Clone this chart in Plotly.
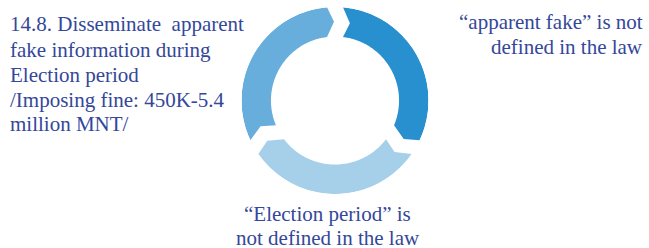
import math
import plotly.graph_objects as go

# ---- data ----
segment_names = ["apparent fake", "Election period", "14.8 fine"]
segment_values = [1, 1, 1]
segment_colors = ["#2890CF", "#A6CFEA", "#67AEDD"]
label_right = ["“apparent fake” is not", "defined in the law"]
label_bottom = ["“Election period” is", "not defined in the law"]
label_left = [
    "14.8. Disseminate\u00a0 apparent",
    "fake information during",
    "Election period",
    "/Imposing fine: 450K-5.4",
    "million MNT/",
]

# ---- geometry (styles) ----
W, H = 649, 248
CX, CY = 335.0, 100.5
R_PX = 93.5          # outer radius in pixels
R_IN = 0.685         # inner radius (fraction of outer)
R_MID = (1 + R_IN) / 2
GAP_PX = 8.0         # half width of the gap between arrows
TIP_PX = 7.0         # arrow tip / notch depth
ROT = 0.0            # start angle (deg, clockwise from top)
FS = 21
TXT = "#34479A"


def dang(px, r):
    return math.degrees(px / (r * R_PX))


total = sum(segment_values)
bounds = [ROT]
for v in segment_values:
    bounds.append(bounds[-1] + 360.0 * v / total)

fig = go.Figure()
N = 80
for i, (name, v, col) in enumerate(zip(segment_names, segment_values, segment_colors)):
    a, b = bounds[i], bounds[i + 1]
    rs, ts = [], []
    t0 = a + dang(GAP_PX, 1.0)
    t1 = b - dang(GAP_PX, 1.0)
    for k in range(N + 1):
        rs.append(1.0)
        ts.append(t0 + (t1 - t0) * k / N)
    rs.append(R_MID)
    ts.append(b + dang(-GAP_PX + TIP_PX, R_MID))
    t0i = a + dang(GAP_PX, R_IN)
    t1i = b - dang(GAP_PX, R_IN)
    for k in range(N + 1):
        rs.append(R_IN)
        ts.append(t1i + (t0i - t1i) * k / N)
    rs.append(R_MID)
    ts.append(a + dang(GAP_PX + TIP_PX, R_MID))
    rs.append(rs[0])
    ts.append(ts[0])
    fig.add_trace(go.Scatterpolar(
        r=rs, theta=ts, mode="lines", fill="toself", name=name,
        fillcolor=col, line=dict(width=0, color=col),
        hoverinfo="skip", showlegend=False,
    ))

fig.update_layout(
    width=W, height=H,
    margin=dict(l=0, r=0, t=0, b=0),
    paper_bgcolor="white",
    polar=dict(
        domain=dict(x=[(CX - R_PX) / W, (CX + R_PX) / W],
                    y=[(H - CY - R_PX) / H, (H - CY + R_PX) / H]),
        bgcolor="rgba(0,0,0,0)",
        radialaxis=dict(range=[0, 1], visible=False, showgrid=False),
        angularaxis=dict(visible=False, showgrid=False, rotation=90,
                         direction="clockwise"),
    ),
)

txt_font = dict(family="Liberation Serif", size=FS, color=TXT)


def add_lines(lines, x, baselines, anchor):
    for line, bl in zip(lines, baselines):
        fig.add_annotation(text=line, xref="paper", yref="paper",
                           x=x / W, y=1 - (bl - 0.3 * FS) / H,
                           xanchor=anchor, yanchor="middle",
                           showarrow=False, font=txt_font)


add_lines(label_right, 645, [28, 53.5], "right")
add_lines(label_bottom, 327.5, [220.5, 244.5], "center")
add_lines(label_left, 8, [30.5, 56, 81, 106, 130.5], "left")

fig.write_html("out.html", config={"displayModeBar": False},
               post_script="document.body.style.margin='0';")
